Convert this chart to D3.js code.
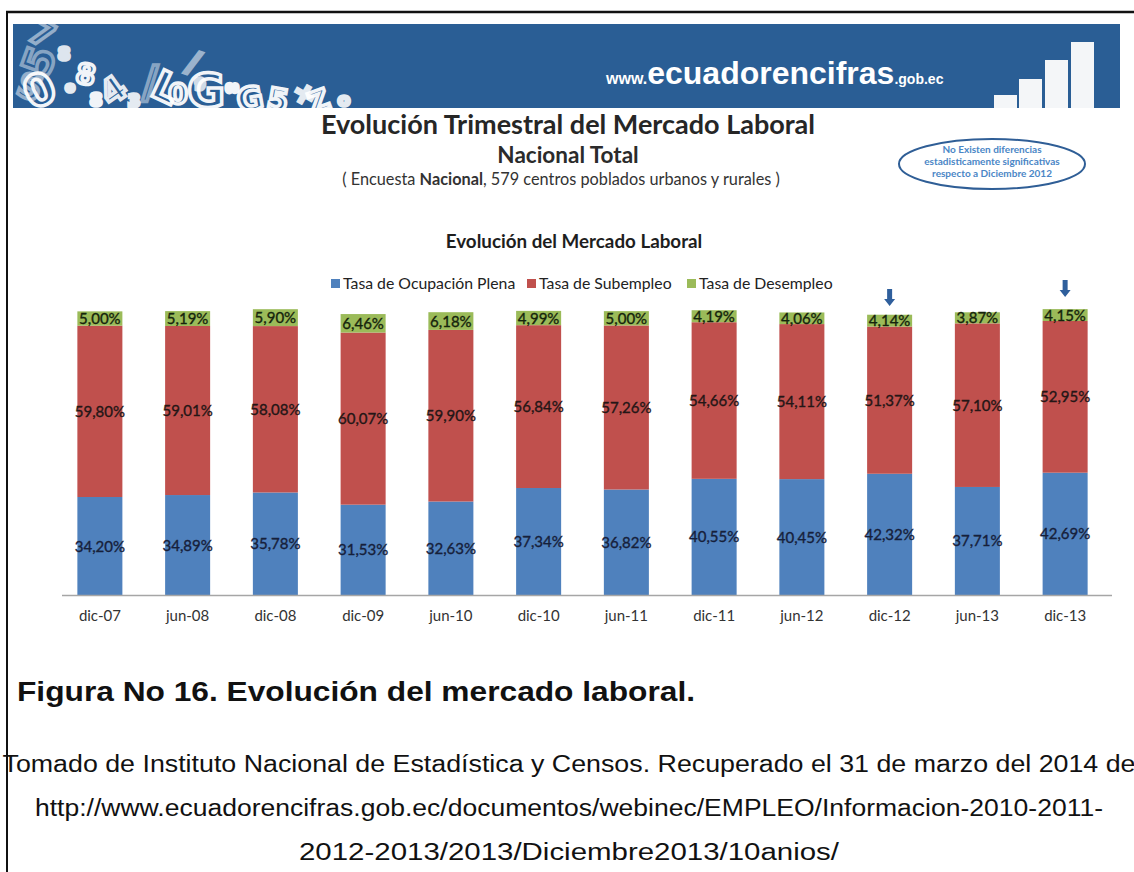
<!DOCTYPE html>
<html>
<head>
<meta charset="utf-8">
<script src="https://cdn.jsdelivr.net/npm/d3@7"></script>
<style>
  html, body { margin: 0; padding: 0; background: #fff; }
  svg { display: block; }
</style>
</head>
<body>
<svg id="fig" width="1134" height="872"></svg>
<script>
// Quarterly labour market figures, Ecuador (percent of the labour force)
const periods = ["dic-07", "jun-08", "dic-08", "dic-09", "jun-10", "dic-10",
                 "jun-11", "dic-11", "jun-12", "dic-12", "jun-13", "dic-13"];
const ocupacionPlena = [34.20, 34.89, 35.78, 31.53, 32.63, 37.34, 36.82, 40.55, 40.45, 42.32, 37.71, 42.69];
const subempleo      = [59.80, 59.01, 58.08, 60.07, 59.90, 56.84, 57.26, 54.66, 54.11, 51.37, 57.10, 52.95];
const desempleo      = [5.00, 5.19, 5.90, 6.46, 6.18, 4.99, 5.00, 4.19, 4.06, 4.14, 3.87, 4.15];
const seriesNames = ["Tasa de Ocupación Plena", "Tasa de Subempleo", "Tasa de Desempleo"];
const seriesColors = ["#4f81bd", "#c0504d", "#9bbb59"];
const markedPeriods = ["dic-12", "dic-13"];

const svg = d3.select("#fig");
const fmt = v => d3.format(".2f")(v).replace(".", ",") + "%";

// page frame
svg.append("line").attr("x1", 6).attr("x2", 1134).attr("y1", 12).attr("y2", 12)
  .attr("stroke", "#111").attr("stroke-width", 2.5);
svg.append("line").attr("x1", 7).attr("x2", 7).attr("y1", 11).attr("y2", 872)
  .attr("stroke", "#111").attr("stroke-width", 2);

// header banner
const banner = svg.append("g");
banner.append("rect").attr("x", 13).attr("y", 24).attr("width", 1107).attr("height", 84)
  .attr("fill", "#2a5e95");

// decorative numerals on the left of the banner
const deco = [
  {t: "5", x: 52, y: 66, s: 40, r: -70, o: 0.45}, {t: "7", x: 36, y: 44, s: 34, r: 30, o: 0.5},
  {t: "0", x: 46, y: 104, s: 44, r: -25, o: 0.95}, {t: "8", x: 84, y: 84, s: 28, r: 10, o: 0.95},
  {t: "4", x: 120, y: 100, s: 34, r: -35, o: 0.9}, {t: "8", x: 96, y: 106, s: 18, r: 0, o: 0.95},
  {t: "3", x: 134, y: 107, s: 18, r: 0, o: 0.9}, {t: "L", x: 160, y: 100, s: 40, r: 25, o: 0.95},
  {t: "/", x: 150, y: 98, s: 44, r: 0, o: 0.45}, {t: "0", x: 178, y: 104, s: 28, r: 0, o: 0.95},
  {t: "G", x: 206, y: 107, s: 46, r: 0, o: 0.95}, {t: "9", x: 200, y: 90, s: 16, r: 0, o: 0.8},
  {t: "8", x: 226, y: 88, s: 16, r: 90, o: 0.95}, {t: "G", x: 252, y: 110, s: 32, r: -10, o: 0.95},
  {t: "5", x: 276, y: 110, s: 30, r: 10, o: 0.95}, {t: "+", x: 300, y: 102, s: 28, r: 30, o: 0.9},
  {t: "Z", x: 322, y: 110, s: 28, r: -20, o: 0.95}, {t: "o", x: 344, y: 106, s: 18, r: 0, o: 0.9},
  {t: "8", x: 64, y: 60, s: 18, r: 0, o: 0.85}, {t: "o", x: 70, y: 92, s: 14, r: 0, o: 0.9},
  {t: "S", x: 26, y: 98, s: 34, r: 20, o: 0.5}, {t: "/", x: 190, y: 72, s: 30, r: 20, o: 0.55}
];
banner.selectAll("text.deco").data(deco).join("text")
  .attr("class", "deco")
  .attr("transform", d => `translate(${d.x},${d.y}) rotate(${d.r})`)
  .attr("text-anchor", "middle")
  .attr("font-family", "DejaVu Sans, sans-serif")
  .attr("font-weight", "bold")
  .attr("font-size", d => d.s)
  .attr("fill", "none")
  .attr("stroke", "#ffffff")
  .attr("stroke-width", 3.5)
  .attr("stroke-opacity", d => d.o)
  .text(d => d.t);

// site name
const site = banner.append("text").attr("x", 606).attr("y", 84)
  .attr("font-family", "Liberation Sans, Arial, sans-serif").attr("fill", "#fff");
site.append("tspan").attr("font-size", 16).attr("font-weight", "bold").text("www.");
site.append("tspan").attr("font-size", 32).attr("font-weight", "bold").text("ecuadorencifras");
site.append("tspan").attr("font-size", 14).attr("font-weight", "bold").text(".gob.ec");

// small rising-bars emblem
const emblem = [{x: 994, top: 95}, {x: 1019, top: 79}, {x: 1045, top: 60}, {x: 1071, top: 42}];
banner.selectAll("rect.emblem").data(emblem).join("rect")
  .attr("class", "emblem")
  .attr("x", d => d.x).attr("y", d => d.top)
  .attr("width", 23).attr("height", d => 108 - d.top)
  .attr("fill", "#f4f6f8");

// titles
const titleFont = "Lato, 'Open Sans', sans-serif";
svg.append("text").attr("x", 568).attr("y", 134).attr("text-anchor", "middle")
  .attr("font-family", titleFont).attr("font-weight", "bold").attr("font-size", 27)
  .attr("fill", "#262626").text("Evolución Trimestral del Mercado Laboral");
svg.append("text").attr("x", 568).attr("y", 163).attr("text-anchor", "middle")
  .attr("font-family", titleFont).attr("font-weight", "bold").attr("font-size", 22.5)
  .attr("fill", "#2b2b2b").text("Nacional Total");
const sub = svg.append("text").attr("x", 561).attr("y", 185).attr("text-anchor", "middle")
  .attr("font-family", titleFont).attr("font-size", 16.3).attr("fill", "#333");
sub.append("tspan").text("( Encuesta ");
sub.append("tspan").attr("font-weight", "bold").text("Nacional");
sub.append("tspan").text(", 579 centros poblados urbanos y rurales )");

// note oval
svg.append("ellipse").attr("cx", 992).attr("cy", 164).attr("rx", 93).attr("ry", 25)
  .attr("fill", "#fff").attr("stroke", "#2f5e96").attr("stroke-width", 2);
const noteLines = ["No Existen diferencias", "estadisticamente significativas", "respecto  a Diciembre 2012"];
svg.selectAll("text.note").data(noteLines).join("text")
  .attr("class", "note")
  .attr("x", 992).attr("y", (d, i) => 153 + i * 12)
  .attr("text-anchor", "middle")
  .attr("font-family", titleFont).attr("font-weight", "bold").attr("font-size", 10)
  .attr("fill", "#4a86c6").text(d => d);

// chart title
svg.append("text").attr("x", 574).attr("y", 248).attr("text-anchor", "middle")
  .attr("font-family", titleFont).attr("font-weight", "bold").attr("font-size", 18.8)
  .attr("fill", "#1e1e1e").text("Evolución del Mercado Laboral");

// legend
const legendX = [331, 527, 687];
const legend = svg.selectAll("g.legend").data(seriesNames).join("g")
  .attr("class", "legend")
  .attr("transform", (d, i) => `translate(${legendX[i]},289)`);
legend.append("rect").attr("x", 0).attr("y", -10).attr("width", 9).attr("height", 9)
  .attr("fill", (d, i) => seriesColors[i]);
legend.append("text").attr("x", 12).attr("y", 0)
  .attr("font-family", titleFont).attr("font-size", 15.8).attr("fill", "#222")
  .text(d => d);

// scales
const x = d3.scaleBand().domain(periods).range([56, 1109])
  .paddingInner(0.487).paddingOuter(0.2435);
const y = d3.scaleLinear().domain([0, 100]).range([595, 308.5]);

// stacked data
const rows = periods.map((p, i) => ({
  period: p, plena: ocupacionPlena[i], sub: subempleo[i], des: desempleo[i]
}));
const keys = ["plena", "sub", "des"];
const stacked = d3.stack().keys(keys)(rows);

const layers = svg.selectAll("g.layer").data(stacked).join("g")
  .attr("class", "layer").attr("fill", (d, i) => seriesColors[i]);
layers.selectAll("rect").data(d => d).join("rect")
  .attr("x", d => x(d.data.period))
  .attr("width", x.bandwidth())
  .attr("y", d => y(d[1]))
  .attr("height", d => y(d[0]) - y(d[1]));

// value labels, centred in each segment
const labelInk = ["#16203a", "#241616", "#15240c"];
layers.each(function(layer, li) {
  d3.select(this.parentNode).selectAll(null).data(layer).join("text")
    .attr("x", d => x(d.data.period) + x.bandwidth() / 2)
    .attr("y", d => (y(d[0]) + y(d[1])) / 2 + 5.5)
    .attr("text-anchor", "middle")
    .attr("font-family", titleFont)
    .attr("font-size", 15)
    .attr("fill", labelInk[li])
    .attr("stroke", labelInk[li])
    .attr("stroke-width", 0.35)
    .text(d => fmt(d[1] - d[0]));
});

// x axis
const xAxis = svg.append("g").attr("transform", "translate(0,595)")
  .call(d3.axisBottom(x).tickSize(0).tickPadding(15));
xAxis.select(".domain").attr("d", "M62,0.5H1112").attr("stroke", "#a6a6a6").attr("stroke-width", 1.5);
xAxis.selectAll("text").attr("font-family", titleFont).attr("font-size", 15).attr("fill", "#333");

// arrows over highlighted periods
const arrowTop = {"dic-12": 289, "dic-13": 280};
const arrows = svg.selectAll("g.arrow").data(markedPeriods).join("g")
  .attr("class", "arrow")
  .attr("transform", d => `translate(${x(d) + x.bandwidth() / 2},${arrowTop[d]})`);
arrows.append("path")
  .attr("d", "M-2.5,0H2.5V10H5.5L0,17L-5.5,10H-2.5Z")
  .attr("fill", "#2f5f9c");

// figure caption and source
svg.append("text").attr("x", 17).attr("y", 701)
  .attr("font-family", "Liberation Sans, Arial, sans-serif").attr("font-weight", "bold")
  .attr("font-size", 28).attr("fill", "#111")
  .attr("textLength", 678).attr("lengthAdjust", "spacingAndGlyphs")
  .text("Figura No 16. Evolución del mercado laboral.");
const sourceLines = [
  {t: "Tomado de Instituto Nacional de Estadística y Censos. Recuperado el 31 de marzo del 2014 de", w: 1133},
  {t: "http://www.ecuadorencifras.gob.ec/documentos/webinec/EMPLEO/Informacion-2010-2011-", w: 1068},
  {t: "2012-2013/2013/Diciembre2013/10anios/", w: 540}
];
svg.selectAll("text.src").data(sourceLines).join("text")
  .attr("class", "src")
  .attr("x", 569).attr("y", (d, i) => 772 + i * 44)
  .attr("text-anchor", "middle")
  .attr("font-family", "Liberation Sans, Arial, sans-serif")
  .attr("font-size", 23).attr("fill", "#111")
  .attr("textLength", d => d.w).attr("lengthAdjust", "spacingAndGlyphs")
  .text(d => d.t);
</script>
</body>
</html>
